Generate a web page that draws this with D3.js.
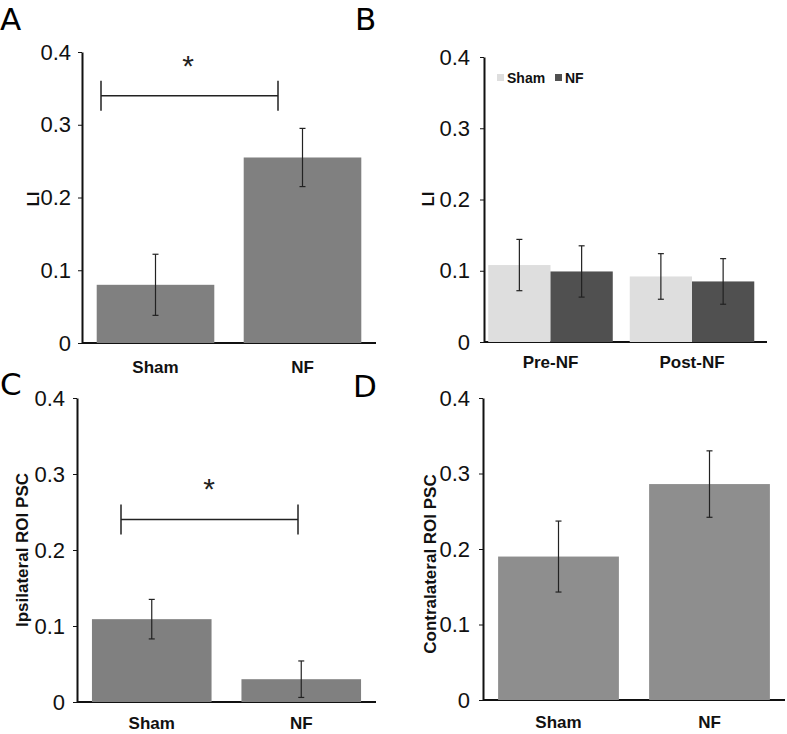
<!DOCTYPE html>
<html>
<head>
<meta charset="utf-8">
<script src="https://cdn.jsdelivr.net/npm/d3@7"></script>
<style>
body { margin: 0; background: #fff; }
text { font-family: "Liberation Sans", Arial, sans-serif; }
</style>
</head>
<body>
<script>
// A: laterality index
var groups = ["Sham", "NF"];
var liMean = [0.080, 0.255];
var liErr = [0.042, 0.040];
// B: LI before / after
var phases = ["Pre-NF", "Post-NF"];
var shamLI = [0.108, 0.092];
var shamLIErr = [0.036, 0.032];
var nfLI = [0.099, 0.085];
var nfLIErr = [0.036, 0.032];
// C / D: ROI PSC
var ipsiMean = [0.109, 0.030];
var ipsiErr = [0.026, 0.024];
var contraMean = [0.190, 0.286];
var contraErr = [0.047, 0.044];
var yTicks = [0, 0.1, 0.2, 0.3, 0.4];

var svg = d3.select("body").append("svg")
    .attr("width", 787)
    .attr("height", 734);

function fmt(d) { return d === 0 ? "0" : d3.format(".1f")(d); }

// axes + y label, returns y scale
function frame(p) {
    var y = d3.scaleLinear().domain([0, 0.4]).range([p.yb, p.yt]);
    var g = svg.append("g").attr("transform", "translate(" + p.x0 + ",0)");
    g.call(d3.axisLeft(y).tickValues(yTicks).tickFormat(fmt).tickSize(4).tickSizeOuter(0).tickPadding(p.pad || 7));
    g.select(".domain").attr("stroke", "#111").attr("stroke-width", 2);
    g.selectAll(".tick line").attr("stroke", "#111");
    g.selectAll(".tick text")
        .attr("font-size", 22)
        .attr("fill", "#111")
        .style("font-family", "'Liberation Sans', Arial, sans-serif");
    svg.append("line")
        .attr("x1", p.x0).attr("x2", p.x1)
        .attr("y1", y(0)).attr("y2", y(0))
        .attr("stroke", "#111").attr("stroke-width", 2);
    svg.append("text")
        .attr("transform", "translate(" + p.lx + "," + p.ly + ") rotate(-90)")
        .attr("text-anchor", "middle")
        .attr("dy", "0.35em")
        .attr("font-size", 17)
        .attr("font-weight", "bold")
        .attr("fill", "#111")
        .text(p.ylabel);
    return y;
}

function errBar(x, y, m, e) {
    svg.append("line").attr("x1", x).attr("x2", x)
        .attr("y1", y(m + e)).attr("y2", y(m - e))
        .attr("stroke", "#222").attr("stroke-width", 1.2);
    [m + e, m - e].forEach(function (v) {
        svg.append("line").attr("x1", x - 3).attr("x2", x + 3)
            .attr("y1", y(v)).attr("y2", y(v))
            .attr("stroke", "#222").attr("stroke-width", 1.2);
    });
}

function catLabels(x, cats, yb, dy) {
    cats.forEach(function (c) {
        svg.append("text")
            .attr("x", x(c) + x.bandwidth() / 2)
            .attr("y", yb + dy)
            .attr("text-anchor", "middle")
            .attr("font-size", 17)
            .attr("font-weight", "bold")
            .attr("fill", "#111")
            .text(c);
    });
}

function simplePanel(p, means, errs, color) {
    var y = frame(p);
    var x = d3.scaleBand().domain(groups).range([p.x0, p.x1]).paddingInner(0.2).paddingOuter(0.1);
    svg.append("g").selectAll("rect")
        .data(groups)
        .join("rect")
        .attr("x", function (d) { return x(d); })
        .attr("y", function (d, i) { return y(means[i]); })
        .attr("width", x.bandwidth())
        .attr("height", function (d, i) { return y(0) - y(means[i]); })
        .attr("fill", color);
    groups.forEach(function (g, i) {
        errBar(x(g) + x.bandwidth() / 2, y, means[i], errs[i]);
    });
    catLabels(x, groups, p.yb, p.cdy);
    return y;
}

function sigBracket(xa, xb, yy, starX, starY) {
    svg.append("path")
        .attr("d", "M" + xa + "," + (yy - 15) + "V" + (yy + 15) + "M" + xa + "," + yy + "H" + xb +
            "M" + xb + "," + (yy - 15) + "V" + (yy + 15))
        .attr("fill", "none").attr("stroke", "#222").attr("stroke-width", 1.5);
    svg.append("text")
        .attr("x", starX).attr("y", starY)
        .attr("text-anchor", "middle")
        .attr("font-size", 30)
        .attr("fill", "#222")
        .text("*");
}

// Panel A
var pA = { x0: 82, x1: 376, yt: 52, yb: 343, lx: 33, ly: 199, ylabel: "LI", cdy: 30 };
var yA = simplePanel(pA, liMean, liErr, "#808080");
sigBracket(101, 278, yA(0.34), 188, 76);

// Panel B
var pB = { x0: 484, x1: 767, yt: 57, yb: 342, lx: 428, ly: 199, ylabel: "LI", cdy: 26, pad: 10 };
var yB = frame(pB);
var xB = d3.scaleBand().domain(phases).range([pB.x0, pB.x1]).paddingInner(0.12).paddingOuter(0.06).align(0.25);
var seriesB = [
    { name: "Sham", vals: shamLI, errs: shamLIErr, color: "#dedede" },
    { name: "NF", vals: nfLI, errs: nfLIErr, color: "#505050" }
];
var xSub = d3.scaleBand().domain(seriesB.map(function (s) { return s.name; })).range([0, xB.bandwidth()]);
seriesB.forEach(function (s) {
    svg.append("g").selectAll("rect")
        .data(phases)
        .join("rect")
        .attr("x", function (d) { return xB(d) + xSub(s.name); })
        .attr("y", function (d, i) { return yB(s.vals[i]); })
        .attr("width", xSub.bandwidth())
        .attr("height", function (d, i) { return yB(0) - yB(s.vals[i]); })
        .attr("fill", s.color);
});
seriesB.forEach(function (s) {
    phases.forEach(function (ph, i) {
        errBar(xB(ph) + xSub(s.name) + xSub.bandwidth() / 2, yB, s.vals[i], s.errs[i]);
    });
});
catLabels(xB, phases, pB.yb, pB.cdy);

// legend
var leg = svg.append("g").attr("transform", "translate(497,74)");
seriesB.forEach(function (s, i) {
    var lx = i === 0 ? 0 : 58;
    leg.append("rect").attr("x", lx).attr("y", 0).attr("width", 7).attr("height", 7).attr("fill", s.color);
    leg.append("text").attr("x", lx + 10).attr("y", 9)
        .attr("font-size", 14).attr("font-weight", "bold").attr("fill", "#111")
        .text(s.name);
});

// Panel C
var pC = { x0: 77, x1: 376, yt: 398, yb: 702, lx: 22, ly: 550, ylabel: "Ipsilateral ROI PSC", cdy: 27, pad: 8 };
var yC = simplePanel(pC, ipsiMean, ipsiErr, "#808080");
sigBracket(121, 298, yC(0.24), 209, 499);

// Panel D
var pD = { x0: 483, x1: 785, yt: 398, yb: 700, lx: 430, ly: 564, ylabel: "Contralateral ROI PSC", cdy: 28, pad: 9 };
simplePanel(pD, contraMean, contraErr, "#8e8e8e");

// panel letters
[["A", 0, 30], ["B", 355, 30], ["C", 0, 395], ["D", 353, 397]].forEach(function (l) {
    svg.append("text")
        .attr("x", l[1]).attr("y", l[2])
        .attr("font-size", 31)
        .attr("fill", "#000")
        .style("font-family", "'DejaVu Sans', sans-serif")
        .text(l[0]);
});
</script>
</body>
</html>
